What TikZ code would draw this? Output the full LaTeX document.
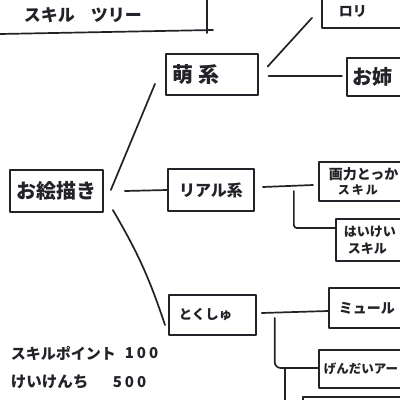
\documentclass[tikz,border=0pt]{standalone}
\usepackage{fontspec}
\setmainfont{Noto Sans CJK JP}
\usetikzlibrary{calc}
\definecolor{ink}{RGB}{34,34,40}
\newcommand\fsz[1]{\fontsize{#1}{#1}\selectfont\bfseries}
\begin{document}
\begin{tikzpicture}[x=1pt,y=-1pt,
  line width=1.7pt, line cap=round, line join=round,
  every node/.style={text=ink},
  box/.style={draw=ink, rectangle, inner sep=0pt},
  lbox/.style={box, anchor=west, align=left},
  txt/.style={anchor=west, inner sep=0pt},
  conn/.style={draw=ink}]
\useasboundingbox (0,0) rectangle (400,400);
\clip (0,0) rectangle (400,400);
\fill[white] (0,0) rectangle (400,400);

% title
\node[txt, font=\fsz{17}] (title) at (23,15) {スキル\hspace{16pt}ツリー};
\draw[ink] (0,34) -- (213,30);
\draw[ink] (207,0) -- (207,33);

% nodes
\node[box, minimum width=93pt, minimum height=42pt, font=\fsz{20}] (root) at (56.5,191) {お絵描き};
\node[lbox, inner xsep=7pt, text width=78pt, minimum height=41pt, font=\fsz{21}] (moe) at (165,74.5) {萌\hspace{5pt}系};
\node[box, minimum width=86pt, minimum height=42pt, font=\fsz{16}] (real) at (211,190) {リアル系};
\node[lbox, inner xsep=10pt, text width=67pt, minimum height=40pt, font=\fsz{13.5}] (toku) at (168,315) {とくしゅ};

\node[lbox, inner xsep=17pt, text width=75pt, minimum height=34pt, font=\fsz{14}] (lori) at (321,11) {ロリ};
\node[lbox, inner xsep=6pt, text width=72pt, minimum height=38pt, font=\fsz{20}] (onee) at (346,77) {お姉};
\node[lbox, inner xsep=10pt, text width=82pt, minimum height=39pt] (gaku) at (318,181.5) {{\fsz{14}画力とっか}\\[3pt]{\fsz{12}\hspace*{9pt}ス\hspace{2pt}キ\hspace{2pt}ル}};
\node[lbox, inner xsep=8pt, text width=80pt, minimum height=42pt, font=\fsz{13}] (haikei) at (335,240) {はいけい\\[4pt]\hspace*{4pt}スキル};
\node[lbox, inner xsep=10pt, text width=80pt, minimum height=40pt, font=\fsz{14}] (mule) at (328,308) {ミュール};
\node[lbox, inner xsep=5pt, text width=95pt, minimum height=38pt, font=\fsz{12.5}] (gendai) at (318,369) {げんだいアー};
\node[box, anchor=north west, minimum width=130pt, minimum height=40pt] (next) at (302,396) {};

% connectors
\draw[conn] ($(root.east)+(7,-1)$) -- ($(moe.south west)+(-10,-12)$);
\draw[conn] ($(root.east)+(21,0)$) -- (real.west);
\draw[conn] ($(root.east)+(9,19)$) to[bend left=6] ($(toku.west)+(-3,10)$);

\draw[conn] ($(moe.east)+(9,-8)$) -- ($(lori.south west)+(-9,-11)$);
\draw[conn] ($(moe.east)+(10,1.5)$) -- ($(onee.west)+(-4,-1)$);

\draw[conn] ($(real.east)+(8,-3)$) -- ($(gaku.west)+(-5,3.5)$);
\draw[conn, rounded corners=3pt] ($(real.east)+(39,1)$) |- ($(haikei.west)+(0,-12)$);

\draw[conn] ($(toku.east)+(5,-2)$) -- ($(mule.west)+(0,3)$);
\draw[conn, rounded corners=6pt] ($(toku.east)+(18,3)$) |- ($(gendai.west)+(0,-1)$);
\draw[conn] ($(gendai.west)+(-33,0)$) -- ($(next.north west)+(-17,6)$);

% bottom text
\node[txt, font=\fsz{15}] (sp) at (10,353) {スキルポイント};
\node[txt, font=\fsz{15}] (spv) at (124,353) {1\hspace{3pt}0\hspace{3pt}0};
\node[txt, font=\fsz{15.5}] (kk) at (10,382) {けいけんち};
\node[txt, font=\fsz{15}] (kkv) at (112,382) {5\hspace{3pt}0\hspace{3pt}0};
\end{tikzpicture}
\end{document}
